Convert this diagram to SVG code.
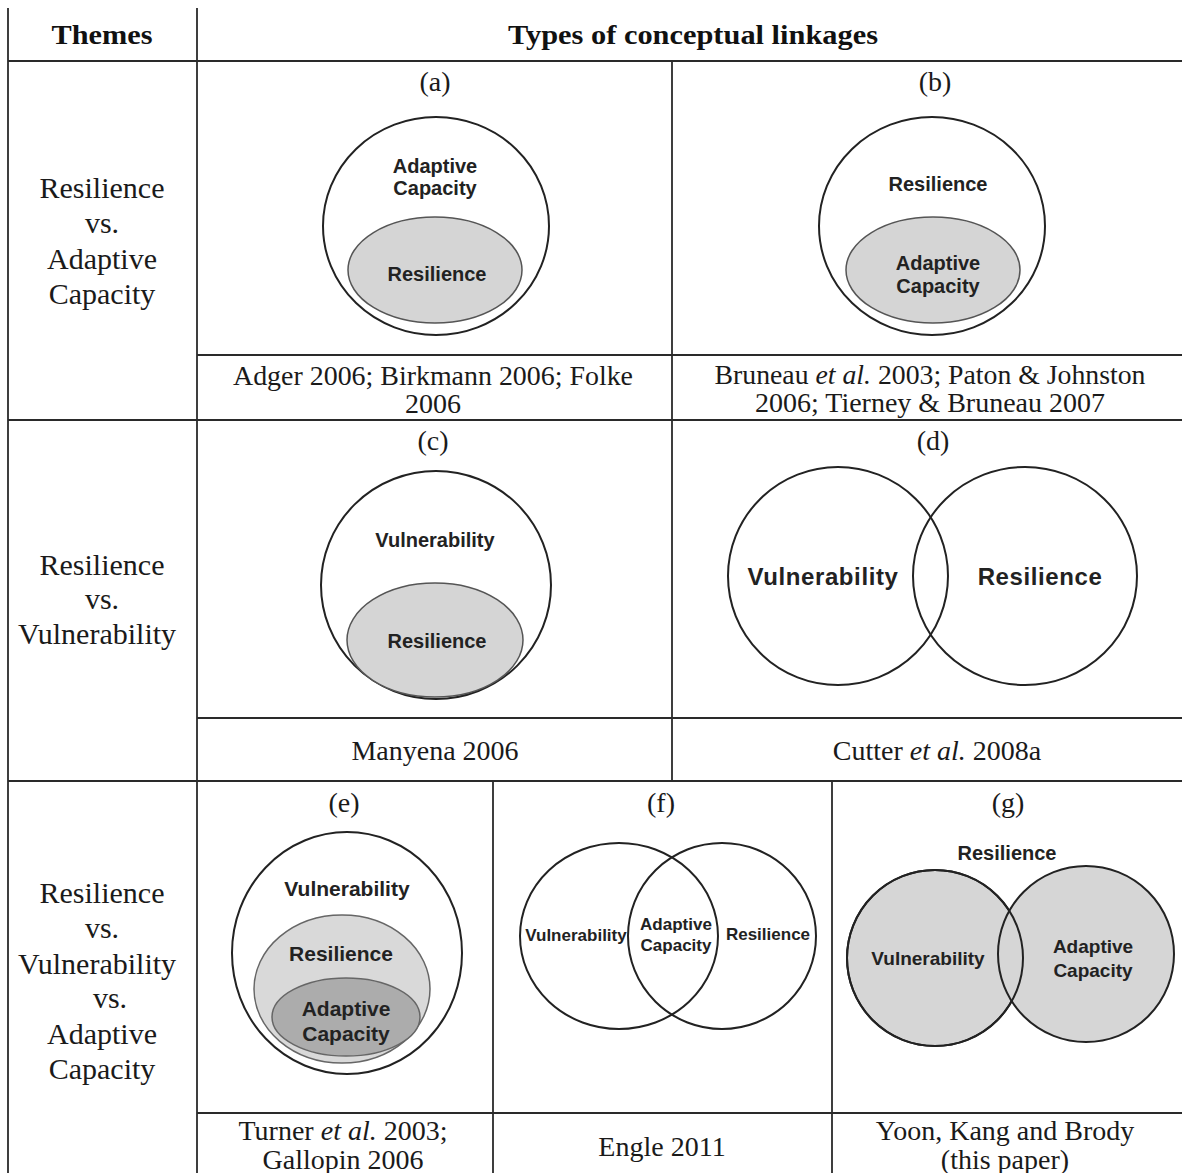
<svg xmlns="http://www.w3.org/2000/svg" width="1182" height="1173" viewBox="0 0 1182 1173">
<style>
.bg{fill:#ffffff}
.grid line{stroke:#2a2a2a;stroke-width:1.8}
.serif{font-family:"Liberation Serif","Times New Roman",serif;font-size:28px;fill:#1a1a1a;text-anchor:middle}
.theme{font-family:"Liberation Serif","Times New Roman",serif;font-size:30px;fill:#1a1a1a;text-anchor:middle}
.head{font-family:"Liberation Serif","Times New Roman",serif;font-size:28px;font-weight:bold;fill:#111;text-anchor:middle}
.sans{font-family:"Liberation Sans",Arial,sans-serif;font-weight:bold;fill:#222;text-anchor:middle}
.s20{font-size:20px}
.s24{font-size:24px;letter-spacing:0.6px}
.s21{font-size:21px}
.s17{font-size:17px}
.s19{font-size:19px}
.ring{fill:#ffffff;stroke:#222;stroke-width:2}
.ringn{fill:none;stroke:#222;stroke-width:2}
.shade{fill:#d5d5d5;stroke:#555;stroke-width:1.5}
.shade2{fill:#d9d9d9;stroke:#666;stroke-width:1.5}
.dark{fill:#acacac;stroke:#666;stroke-width:1.5}
.gfill{fill:#d6d6d6;stroke:#222;stroke-width:2}
</style>
<rect class="bg" x="0" y="0" width="1182" height="1173"/>

<g id="connectors" class="grid">
  <line x1="8" y1="8" x2="8" y2="1173"/>
  <line x1="197" y1="8" x2="197" y2="1173"/>
  <line x1="8" y1="61" x2="1182" y2="61"/>
  <line x1="672" y1="61" x2="672" y2="781"/>
  <line x1="197" y1="355" x2="1182" y2="355"/>
  <line x1="8" y1="420" x2="1182" y2="420"/>
  <line x1="197" y1="718" x2="1182" y2="718"/>
  <line x1="8" y1="781" x2="1182" y2="781"/>
  <line x1="493" y1="781" x2="493" y2="1173"/>
  <line x1="832" y1="781" x2="832" y2="1173"/>
  <line x1="197" y1="1113" x2="1182" y2="1113"/>
</g>

<g id="header">
  <text class="head" x="102" y="44" textLength="101" lengthAdjust="spacingAndGlyphs">Themes</text>
  <text class="head" x="693" y="44" textLength="370" lengthAdjust="spacingAndGlyphs">Types of conceptual linkages</text>
</g>

<g id="theme-1">
  <text class="theme" x="102" y="198">Resilience</text>
  <text class="theme" x="102" y="233">vs.</text>
  <text class="theme" x="102" y="269">Adaptive</text>
  <text class="theme" x="102" y="304">Capacity</text>
</g>
<g id="theme-2">
  <text class="theme" x="102" y="575">Resilience</text>
  <text class="theme" x="102" y="609">vs.</text>
  <text class="theme" x="97" y="644">Vulnerability</text>
</g>
<g id="theme-3">
  <text class="theme" x="102" y="903">Resilience</text>
  <text class="theme" x="102" y="938">vs.</text>
  <text class="theme" x="97" y="974">Vulnerability</text>
  <text class="theme" x="110" y="1008">vs.</text>
  <text class="theme" x="102" y="1044">Adaptive</text>
  <text class="theme" x="102" y="1079">Capacity</text>
</g>

<g id="panel-a">
  <text class="serif" x="435" y="91">(a)</text>
  <ellipse class="ring" cx="436" cy="226" rx="113" ry="109"/>
  <ellipse class="shade" cx="435" cy="270" rx="87" ry="53"/>
  <text class="sans s20" x="435" y="173">Adaptive</text>
  <text class="sans s20" x="435" y="195">Capacity</text>
  <text class="sans s20" x="437" y="281">Resilience</text>
  <text class="serif" x="433" y="385" textLength="400" lengthAdjust="spacingAndGlyphs">Adger 2006; Birkmann 2006; Folke</text>
  <text class="serif" x="433" y="413">2006</text>
</g>

<g id="panel-b">
  <text class="serif" x="935" y="91">(b)</text>
  <ellipse class="ring" cx="932" cy="226" rx="113" ry="109"/>
  <ellipse class="shade" cx="933" cy="270" rx="87" ry="53"/>
  <text class="sans s20" x="938" y="191">Resilience</text>
  <text class="sans s20" x="938" y="270">Adaptive</text>
  <text class="sans s20" x="938" y="293">Capacity</text>
  <text class="serif" x="930" y="384" textLength="431" lengthAdjust="spacingAndGlyphs">Bruneau <tspan font-style="italic">et al.</tspan> 2003; Paton &amp; Johnston</text>
  <text class="serif" x="930" y="412">2006; Tierney &amp; Bruneau 2007</text>
</g>

<g id="panel-c">
  <text class="serif" x="433" y="450">(c)</text>
  <ellipse class="ring" cx="436" cy="585" rx="115" ry="114"/>
  <ellipse class="shade" cx="435" cy="640" rx="88" ry="57"/>
  <text class="sans s20" x="435" y="547">Vulnerability</text>
  <text class="sans s20" x="437" y="648">Resilience</text>
  <text class="serif" x="435" y="760">Manyena 2006</text>
</g>

<g id="panel-d">
  <text class="serif" x="933" y="450">(d)</text>
  <ellipse class="ringn" cx="838" cy="576" rx="110" ry="109"/>
  <ellipse class="ringn" cx="1025" cy="576" rx="112" ry="109"/>
  <text class="sans s24" x="823" y="585">Vulnerability</text>
  <text class="sans s24" x="1040" y="585">Resilience</text>
  <text class="serif" x="937" y="760">Cutter <tspan font-style="italic">et al.</tspan> 2008a</text>
</g>

<g id="panel-e">
  <text class="serif" x="344" y="812">(e)</text>
  <ellipse class="ring" cx="347" cy="953" rx="115" ry="121"/>
  <ellipse class="shade2" cx="342" cy="989" rx="88" ry="74"/>
  <ellipse class="dark" cx="346" cy="1017" rx="74" ry="39"/>
  <text class="sans s21" x="347" y="896">Vulnerability</text>
  <text class="sans s21" x="341" y="961">Resilience</text>
  <text class="sans s21" x="346" y="1016">Adaptive</text>
  <text class="sans s21" x="346" y="1041">Capacity</text>
  <text class="serif" x="343" y="1140">Turner <tspan font-style="italic">et al.</tspan> 2003;</text>
  <text class="serif" x="343" y="1169">Gallopin 2006</text>
</g>

<g id="panel-f">
  <text class="serif" x="661" y="812">(f)</text>
  <ellipse class="ringn" cx="619" cy="936" rx="99" ry="93"/>
  <ellipse class="ringn" cx="722" cy="936" rx="94" ry="93"/>
  <text class="sans s17" x="576" y="941">Vulnerability</text>
  <text class="sans s17" x="676" y="930">Adaptive</text>
  <text class="sans s17" x="676" y="951">Capacity</text>
  <text class="sans s17" x="768" y="940">Resilience</text>
  <text class="serif" x="662" y="1156">Engle 2011</text>
</g>

<g id="panel-g">
  <text class="serif" x="1008" y="812">(g)</text>
  <ellipse class="gfill" cx="935" cy="958" rx="88" ry="88"/>
  <ellipse class="gfill" cx="1086" cy="954" rx="88" ry="88"/>
  <ellipse class="ringn" cx="935" cy="958" rx="88" ry="88"/>
  <text class="sans s20" x="1007" y="860">Resilience</text>
  <text class="sans s19" x="928" y="965">Vulnerability</text>
  <text class="sans s19" x="1093" y="953">Adaptive</text>
  <text class="sans s19" x="1093" y="977">Capacity</text>
  <text class="serif" x="1005" y="1140">Yoon, Kang and Brody</text>
  <text class="serif" x="1005" y="1169">(this paper)</text>
</g>
</svg>
